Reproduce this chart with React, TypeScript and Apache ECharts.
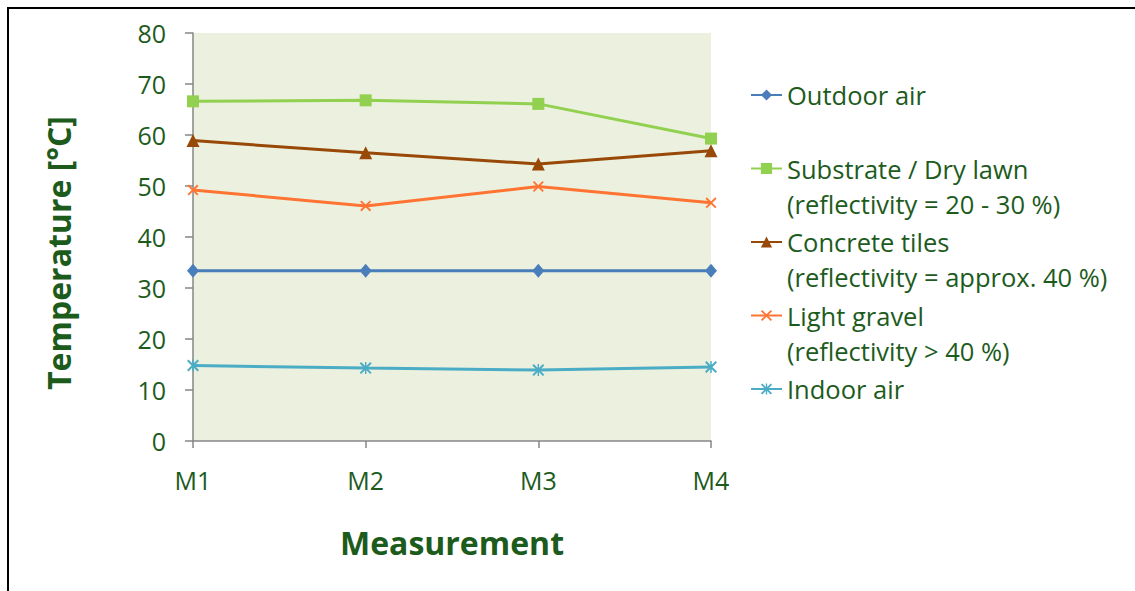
import React, { useEffect, useRef } from "react";
import * as echarts from "echarts";

const categories = ["M1", "M2", "M3", "M4"];
const outdoorAir = [33.4, 33.4, 33.4, 33.4];
const substrate = [66.6, 66.8, 66.1, 59.3];
const concrete = [58.9, 56.5, 54.3, 56.9];
const gravel = [49.2, 46.1, 49.9, 46.7];
const indoorAir = [14.8, 14.3, 13.9, 14.5];

const seriesNames = [
  "Outdoor air",
  "Substrate / Dry lawn",
  "Concrete tiles",
  "Light gravel",
  "Indoor air",
];
const secondLines = [
  "",
  "(reflectivity = 20 - 30 %)",
  "(reflectivity = approx. 40 %)",
  "(reflectivity > 40 %)",
  "",
];
const yTicks = { min: 0, max: 80, interval: 10 };

const FONT = "'Open Sans', 'Noto Sans', sans-serif";
const TEXT = "#1D5B1D";
const AXIS = "#868686";
const LEG_FS = 25.5;

const X_PATH = "path://M0,1.2 L1.2,0 L10,8.8 L8.8,10 Z M8.8,0 L10,1.2 L1.2,10 L0,8.8 Z";
const STAR_PATH =
  "path://M0,1.2 L1.2,0 L10,8.8 L8.8,10 Z M8.8,0 L10,1.2 L1.2,10 L0,8.8 Z M4.4,0 L5.6,0 L5.6,10 L4.4,10 Z";

export default function App() {
  const ref = useRef<HTMLDivElement>(null);
  useEffect(() => {
    document.body.style.margin = "0";
    const chart = echarts.init(ref.current!, null, { renderer: "svg" });
    const legendTop = 80;
    const step = 73.5;
    const mk = (
      name: string,
      data: number[],
      color: string,
      symbol: string,
      symbolSize: number | number[]
    ) => ({
      name,
      type: "line",
      data,
      symbol,
      symbolSize,
      lineStyle: { color, width: 3 },
      itemStyle: { color },
      emphasis: { disabled: true },
    });
    chart.setOption({
      animation: false,
      backgroundColor: "#ffffff",
      grid: {
        left: 193,
        top: 33,
        right: 424,
        bottom: 150,
        show: true,
        backgroundColor: "#EBF1DE",
        borderWidth: 0,
      },
      xAxis: {
        type: "category",
        data: categories,
        boundaryGap: false,
        name: "Measurement",
        nameLocation: "middle",
        nameGap: 85,
        nameTextStyle: { fontFamily: FONT, fontSize: 32, fontWeight: "bold", color: TEXT },
        axisLine: { lineStyle: { color: AXIS, width: 1.5 } },
        axisTick: { show: true, length: 7, lineStyle: { color: AXIS, width: 1.5 } },
        axisLabel: { fontFamily: FONT, fontSize: 25, color: TEXT, margin: 26 },
        splitLine: { show: false },
      },
      yAxis: {
        type: "value",
        min: yTicks.min,
        max: yTicks.max,
        interval: yTicks.interval,
        name: "Temperature [°C]",
        nameLocation: "middle",
        nameGap: 119,
        nameTextStyle: {
          fontFamily: FONT,
          fontSize: 32,
          fontWeight: "bold",
          color: TEXT,
          padding: [0, 32, 0, 0],
        },
        axisLine: { show: true, lineStyle: { color: AXIS, width: 1.5 } },
        axisTick: { show: true, length: 8, lineStyle: { color: AXIS, width: 1.5 } },
        axisLabel: { fontFamily: FONT, fontSize: 25, color: TEXT, margin: 27 },
        splitLine: { show: false },
      },
      legend: {
        orient: "vertical",
        left: 750,
        top: legendTop,
        padding: 0,
        data: seriesNames,
        itemWidth: 31,
        itemHeight: 14,
        itemGap: step - 30,
        itemTextGap: 0,
        selectedMode: false,
        textStyle: { fontFamily: FONT, fontSize: LEG_FS, color: TEXT, lineHeight: 30 },
      },
      graphic: [
        {
          type: "line",
          shape: { x1: 7, y1: 8, x2: 1135, y2: 8 },
          style: { stroke: "#000", lineWidth: 2 },
        },
        {
          type: "line",
          shape: { x1: 8, y1: 7, x2: 8, y2: 591 },
          style: { stroke: "#000", lineWidth: 2 },
        },
        ...secondLines
          .map((t, i) => ({ t, i }))
          .filter((o) => o.t)
          .map((o) => ({
            type: "text",
            x: 787,
            y: legendTop + 15 + o.i * step + 35,
            style: {
              text: o.t,
              fontFamily: FONT,
              fontSize: LEG_FS,
              fill: TEXT,
              verticalAlign: "middle",
              align: "left",
            },
          })),
      ],
      series: [
        mk(seriesNames[0], outdoorAir, "#4A7EBB", "diamond", [12, 14]),
        mk(seriesNames[1], substrate, "#92D050", "rect", 12),
        mk(seriesNames[2], concrete, "#984807", "triangle", 13),
        mk(seriesNames[3], gravel, "#FF7433", X_PATH, 11),
        mk(seriesNames[4], indoorAir, "#4BACC6", STAR_PATH, 12),
      ],
    });
    return () => chart.dispose();
  }, []);
  return <div ref={ref} style={{ width: 1135, height: 591 }} />;
}
